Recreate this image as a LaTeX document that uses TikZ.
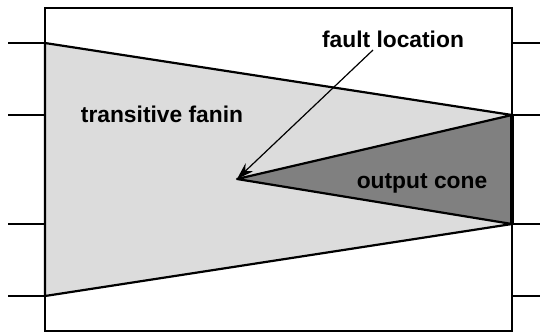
\documentclass[tikz,border=0pt]{standalone}
\usepackage{fontspec}
\setmainfont{Liberation Sans}
\usetikzlibrary{arrows.meta}
\definecolor{lightfill}{HTML}{DCDCDC}
\definecolor{darkfill}{HTML}{808080}
\begin{document}
\begin{tikzpicture}[x=1pt,y=-1pt,
  lbl/.style={font=\fontsize{22.8}{24}\selectfont\bfseries, inner sep=0pt, anchor=base},
  stub/.style={line width=1.2pt},
  edge/.style={line width=2.2pt, line join=round}]
\useasboundingbox (0,0) rectangle (548,333);
\draw[line width=1.2pt] (45,8) rectangle (512,331);
% stubs
\foreach \y/\n in {43/a,115/b,224/c,296/d}{
  \coordinate (l\n) at (8,\y);
  \coordinate (L\n) at (45,\y);
  \coordinate (r\n) at (540,\y);
  \coordinate (R\n) at (512,\y);
  \draw[stub] (l\n) -- (L\n);
  \draw[stub] (R\n) -- (r\n);
}
\coordinate (apex) at (237,179);
\fill[lightfill] (La) -- (Rb) -- (Rc) -- (Ld) -- cycle;
\fill[darkfill] (apex) -- (Rb) -- (Rc) -- cycle;
\draw[edge] (La) -- (Rb) -- (apex) -- (Rc) -- (Ld) -- cycle;
\draw[line width=4pt] (Rb) -- (Rc);
\node[lbl] (fault) at (393,47) {fault location};
\node[lbl] (fanin) at (162,122) {transitive fanin};
\node[lbl] (cone) at (422,188) {output cone};
\coordinate (arrstart) at (373,50);
\draw[line width=1.2pt, -{Stealth[length=17pt,width=11pt]}] (arrstart) -- (apex);
\end{tikzpicture}
\end{document}
